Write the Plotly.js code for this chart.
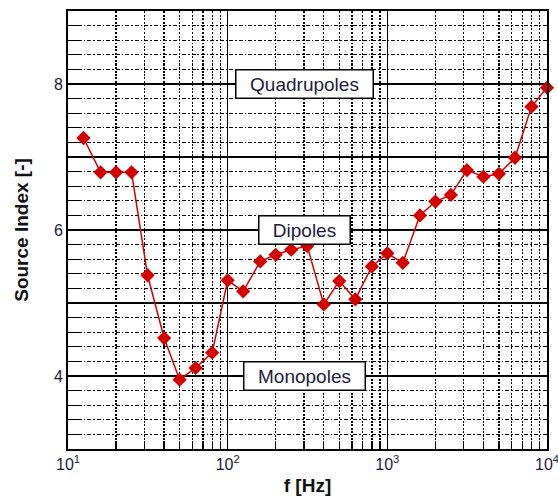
<!DOCTYPE html>
<html>
<head>
<meta charset="utf-8">
<script src="https://cdn.plot.ly/plotly-3.0.1.min.js"></script>
<style>html,body{margin:0;padding:0;background:#fff;}</style>
</head>
<body>
<div id="chart" style="width:558px;height:497px;"></div>
<script>
// Third-octave band centre frequencies [Hz]
const freq = [12.5, 16, 20, 25, 31.5, 40, 50, 63, 80, 100, 125, 160, 200, 250, 315,
              400, 500, 630, 800, 1000, 1250, 1600, 2000, 2500, 3150, 4000, 5000, 6300, 8000, 10000];
// Source index [-]
const sourceIndex = [7.26, 6.79, 6.79, 6.79, 5.38, 4.52, 3.95, 4.11, 4.32, 5.31, 5.16, 5.57, 5.66, 5.73, 5.78,
                     4.98, 5.30, 5.05, 5.50, 5.68, 5.55, 6.20, 6.39, 6.48, 6.82, 6.73, 6.77, 6.99, 7.69, 7.95];
// x tick values / labels
const xTickVals = [10, 100, 1000, 10000];
const xTickText = ['10<sup>1</sup>', '10<sup>2</sup>', '10<sup>3</sup>', '10<sup>4</sup>'];
// y tick values / labels
const yTickVals = [3, 4, 5, 6, 7, 8, 9];
const yTickText = ['', '4', '', '6', '', '8', ''];
// region labels
const regionLabels = ['Quadrupoles', 'Dipoles', 'Monopoles'];
const regionY = [8, 6, 4];
const regionFreq = 304;

// minor log grid positions (2..9 within each decade)
const xMinorVals = [];
[10, 100, 1000].forEach(d => { for (let k = 2; k <= 9; k++) xMinorVals.push(k * d); });

const font = 'Liberation Sans, Arial, Helvetica, sans-serif';
const labelColor = '#1c1c3a';

const trace = {
  x: freq, y: sourceIndex, type: 'scatter', mode: 'lines+markers',
  line: {color: '#d40000', width: 1.5},
  marker: {symbol: 'diamond', size: 11, color: '#d40000'},
  cliponaxis: false, showlegend: false
};

const boxWidths = [130, 84, 114];
const annotations = regionLabels.map((t, i) => ({
  x: Math.log10(regionFreq), y: regionY[i], xref: 'x', yref: 'y',
  text: t, showarrow: false,
  font: {family: font, size: 19, color: labelColor},
  bgcolor: '#ffffff', bordercolor: '#000000', borderwidth: 1.5, borderpad: 3,
  width: boxWidths[i]
}));

const layout = {
  width: 558, height: 497,
  margin: {l: 68, r: 11, t: 11, b: 48},
  paper_bgcolor: '#ffffff', plot_bgcolor: '#ffffff',
  font: {family: font, size: 16, color: labelColor},
  xaxis: {
    type: 'log', range: [1, 4], tickmode: 'array', tickvals: xTickVals, ticktext: xTickText,
    ticklabeloverflow: 'allow',
    showgrid: true, gridcolor: '#000000', gridwidth: 1.5,
    ticks: 'inside', ticklen: 8, tickcolor: '#000', tickwidth: 1.5,
    showline: true, mirror: true, linecolor: '#000', linewidth: 2,
    zeroline: false,
    tickfont: {family: font, size: 16, color: labelColor},
    minor: {tickmode: 'array', tickvals: xMinorVals, showgrid: true, gridcolor: '#000000', gridwidth: 1.3, griddash: '2px,1.5px',
            ticks: 'inside', ticklen: 8, tickcolor: '#000', tickwidth: 1.3},
    title: {text: '<b>f [Hz]</b>', font: {family: font, size: 19, color: '#111'}, standoff: 6}
  },
  yaxis: {
    range: [3, 9], tickmode: 'array', tickvals: yTickVals, ticktext: yTickText,
    showgrid: true, gridcolor: '#000000', gridwidth: 1.5,
    ticks: 'inside', ticklen: 12, tickcolor: '#000', tickwidth: 1.5,
    showline: true, mirror: true, linecolor: '#000', linewidth: 2,
    zeroline: false,
    tickfont: {family: font, size: 16, color: labelColor},
    minor: {tick0: 3, dtick: 0.2, showgrid: true, gridcolor: '#000000', gridwidth: 1.3, griddash: '4px,2px,1.5px,2px',
            ticks: 'inside', ticklen: 12, tickcolor: '#000', tickwidth: 1.3},
    title: {text: '<b>Source Index [-]</b>', font: {family: font, size: 19, color: '#111'}, standoff: 20}
  },
  annotations: annotations
};

Plotly.newPlot('chart', [trace], layout, {staticPlot: true, displayModeBar: false});
</script>
</body>
</html>
